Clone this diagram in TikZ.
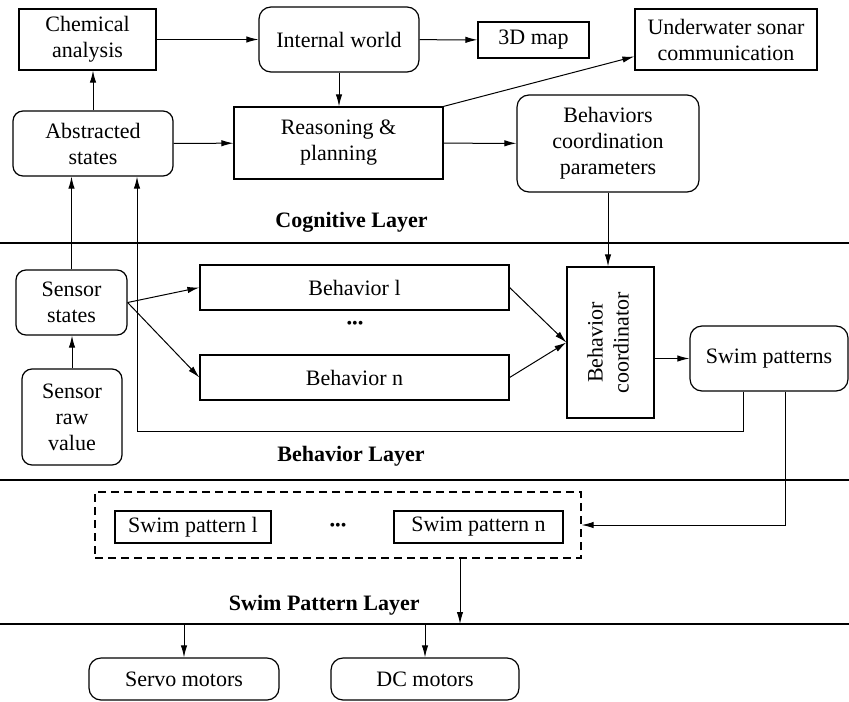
\documentclass[tikz,border=0pt]{standalone}
\usepackage{fontspec}
\setmainfont{Liberation Serif}
\usepackage{graphicx}
\usepackage{tikz}
\usetikzlibrary{arrows.meta, positioning}

\begin{document}
\begin{tikzpicture}[x=0.5pt,y=-0.5pt,
          every node/.style={font=\fontsize{11}{13}\selectfont},
          box/.style={draw,line width=0.6pt,align=center,inner sep=0pt},
          rbox/.style={box,rounded corners=6pt},
          lbl/.style={font=\fontsize{11}{13}\selectfont\bfseries,anchor=east,inner sep=0pt},
          arr/.style={-{Latex[length=6pt,width=3.2pt]},line width=0.5pt},
          layer/.style={line width=1pt}]
        \useasboundingbox (0,0) rectangle (849,701);
        % cognitive layer
        \node[box,minimum width=68.5pt,minimum height=30.5pt](chem) at (87.5,39.5){Chemical\\analysis};
        \node[rbox,minimum width=80pt,minimum height=32.5pt](iw) at (339,39.5){Internal world};
        \node[box,minimum width=55.5pt,minimum height=18pt](map) at (533.5,40){3D map};
        \node[box,minimum width=91pt,minimum height=30.5pt](sonar) at (726,39.5){Underwater sonar\\communication};
        \node[rbox,rounded corners=5pt,minimum width=80pt,minimum height=32.5pt](abs) at (93,143.5){Abstracted\\states};
        \node[box,minimum width=104.5pt,minimum height=36pt](rp) at (338.5,143){Reasoning \&\\planning};
        \node[rbox,minimum width=91pt,minimum height=48.5pt](bcp) at (608,143.5){Behaviors\\coordination\\parameters};
        \node[lbl](cog) at (428,222){Cognitive Layer};
        % behavior layer
        \node[rbox,rounded corners=5pt,minimum width=55.5pt,minimum height=32.5pt](ss) at (71.5,302.5){Sensor\\states};
        \node[rbox,rounded corners=5pt,minimum width=50pt,minimum height=48pt](srv) at (72,417){Sensor\\raw\\value};
        \node[box,minimum width=154.5pt,minimum height=22.5pt](bl) at (354.5,287.5){Behavior l};
        \node[box,minimum width=154.5pt,minimum height=22.5pt](bn) at (354.5,377.5){Behavior n};
        \node(bdots) at (355,325){\footnotesize\textbullet\textbullet\textbullet};
        \node[box,minimum width=43.5pt,minimum height=75.5pt](bc) at (610.5,342.5){
          \rotatebox{90}{\begin{tabular}{@{}c@{}}Behavior\\coordinator\end{tabular}}};
        \node[rbox,minimum width=79pt,minimum height=32.5pt](sp) at (769,358.5){Swim patterns};
        \node[lbl](beh) at (425,456){Behavior Layer};
        % swim pattern layer
        \node[box,dash pattern=on 4pt off 2.5pt,minimum width=243pt,minimum height=33pt](grp) at (338,525){};
        \node[box,minimum width=78pt,minimum height=16pt](spl) at (193,527){Swim pattern l};
        \node[box,minimum width=84.5pt,minimum height=16pt](spn) at (478.5,527){Swim pattern n};
        \node(sdots) at (338,527){\footnotesize\textbullet\textbullet\textbullet};
        \node[lbl](swl) at (420,605){Swim Pattern Layer};
        \node[rbox,minimum width=95pt,minimum height=21pt](servo) at (184,679){Servo motors};
        \node[rbox,minimum width=94pt,minimum height=21pt](dc) at (425,679){DC motors};
        % layer lines
        \coordinate(l1) at (0,243);
        \coordinate(l2) at (0,480);
        \coordinate(l3) at (0,624);
        \draw[layer](l1)--++(849,0);
        \draw[layer](l2)--++(849,0);
        \draw[layer](l3)--++(849,0);
        % connectors
        \draw[arr](chem)--(iw);
        \draw[arr](iw)--(map);
        \draw[arr](iw.south)--(iw.south |- rp.north);
        \draw[arr](abs.north)--(abs.north |- chem.south);
        \draw[arr](abs)--(rp);
        \draw[arr](rp)--(bcp);
        \draw[arr](rp.north east)--([yshift=-8.5pt]sonar.west);
        \draw[arr](bcp.south)--(bcp.south |- bc.north);
        \draw[arr](ss.north)--(ss.north |- abs.south);
        \draw[arr](srv.north)--(srv.north |- ss.south);
        \draw[arr](ss.east)--(bl.west);
        \draw[arr](ss.east)--(bn.west);
        \draw[arr](bl.east)--(bc.west);
        \draw[arr](bn.east)--(bc.west);
        \draw[arr](bc.east |- sp.west)--(sp.west);
        \draw[arr]([xshift=-13pt]sp.south)--++(0,40)-|([xshift=22pt]abs.south);
        \draw[arr]([xshift=8pt]sp.south)|-(grp.east);
        \draw[arr]([xshift=61pt]grp.south)--([xshift=61pt]grp.south |- l3);
        \draw[arr](servo.north |- l3)--(servo.north);
        \draw[arr](dc.north |- l3)--(dc.north);
      \end{tikzpicture}
\end{document}
